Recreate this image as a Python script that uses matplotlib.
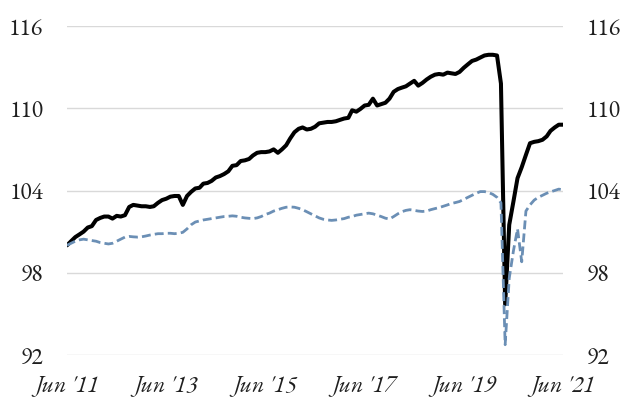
import matplotlib
matplotlib.use("Agg")
import matplotlib.pyplot as plt
import pandas as pd

dates = pd.date_range("2011-06-01", periods=121, freq="MS")

black_series = [
    100.0, 100.3, 100.6, 100.8, 101.0, 101.3, 101.4, 101.85, 102.0, 102.1,
    102.1, 101.95, 102.15, 102.1, 102.2, 102.8, 102.95, 102.9, 102.85, 102.85,
    102.8, 102.85, 103.1, 103.3, 103.4, 103.55, 103.6, 103.6, 102.95, 103.6,
    103.9, 104.15, 104.2, 104.5, 104.55, 104.7, 104.95, 105.05, 105.2, 105.4,
    105.8, 105.85, 106.15, 106.2, 106.3, 106.55, 106.75, 106.8, 106.8, 106.85,
    107.0, 106.75, 107.0, 107.3, 107.8, 108.25, 108.5, 108.6, 108.45, 108.5,
    108.65, 108.9, 108.95, 109.0, 109.0, 109.05, 109.15, 109.25, 109.3, 109.85,
    109.75, 109.95, 110.2, 110.25, 110.7, 110.2, 110.3, 110.4, 110.7, 111.2,
    111.4, 111.5, 111.6, 111.8, 112.0, 111.65, 111.85, 112.1, 112.3, 112.45,
    112.5, 112.45, 112.6, 112.55, 112.5, 112.65, 112.95, 113.2, 113.45, 113.55,
    113.7, 113.85, 113.9, 113.9, 113.85, 111.8, 95.7, 101.5, 103.2, 104.9,
    105.7, 106.6, 107.45, 107.55, 107.6, 107.7, 107.95, 108.35, 108.6, 108.8,
    108.8,
]

blue_series = [
    100.0, 100.15, 100.3, 100.4, 100.45, 100.4, 100.35, 100.3, 100.2, 100.15,
    100.1, 100.15, 100.3, 100.45, 100.6, 100.65, 100.62, 100.6, 100.62, 100.68,
    100.75, 100.8, 100.85, 100.85, 100.88, 100.88, 100.85, 100.88, 100.95, 101.2,
    101.5, 101.7, 101.78, 101.85, 101.9, 101.95, 102.0, 102.05, 102.1, 102.12,
    102.15, 102.12, 102.05, 102.0, 101.97, 101.95, 102.0, 102.1, 102.25, 102.35,
    102.5, 102.6, 102.7, 102.78, 102.8, 102.78, 102.7, 102.6, 102.45, 102.3,
    102.15, 102.0, 101.9, 101.85, 101.82, 101.85, 101.9, 101.95, 102.05, 102.1,
    102.2, 102.25, 102.3, 102.35, 102.3, 102.2, 102.1, 101.98, 101.92, 102.1,
    102.3, 102.45, 102.55, 102.6, 102.55, 102.5, 102.47, 102.5, 102.6, 102.68,
    102.75, 102.85, 102.95, 103.05, 103.12, 103.2, 103.35, 103.5, 103.65, 103.8,
    103.92, 103.92, 103.85, 103.72, 103.5, 103.1, 92.75, 97.6, 99.6, 101.2,
    98.8, 102.5, 102.95, 103.3, 103.5, 103.65, 103.8, 103.9, 104.0, 104.1,
    104.05,
]

y_ticks = [92, 98, 104, 110, 116]
x_tick_labels = ["Jun '11", "Jun '13", "Jun '15", "Jun '17", "Jun '19", "Jun '21"]
x_tick_dates = pd.to_datetime(["2011-06-01", "2013-06-01", "2015-06-01",
                               "2017-06-01", "2019-06-01", "2021-06-01"])

plt.rcParams["font.family"] = ["EB Garamond", "Liberation Serif", "DejaVu Serif"]

fig = plt.figure(figsize=(6.29, 4.04), dpi=100)
ax = fig.add_axes([67 / 629, 1 - 355 / 404, (563 - 67) / 629, (355 - 26) / 404])

ax.plot(dates, black_series, color="black", lw=2.9, solid_joinstyle="round",
        solid_capstyle="round", zorder=3)
ax.plot(dates, blue_series, color="#6B8FB5", lw=2.0, linestyle=(0, (3.2, 1.5)),
        zorder=4)

ax.set_ylim(92, 116)
ax.set_xlim(dates[0], dates[-1])
ax.set_yticks(y_ticks)
ax.set_yticklabels([str(v) for v in y_ticks])
ax.set_xticks(x_tick_dates)
ax.set_xticklabels(x_tick_labels, fontstyle="italic")

ax.grid(axis="y", color="#D9D9D9", lw=1.0, zorder=0)
ax.set_axisbelow(True)
for s in ax.spines.values():
    s.set_visible(False)

ax.tick_params(axis="y", length=0, pad=17, labelsize=17, labelcolor="#1F1F1F",
               labelleft=True, labelright=True)
ax.tick_params(axis="x", length=0, pad=14, labelsize=17, labelcolor="#1F1F1F")

fig.savefig("out.png", dpi=100)
